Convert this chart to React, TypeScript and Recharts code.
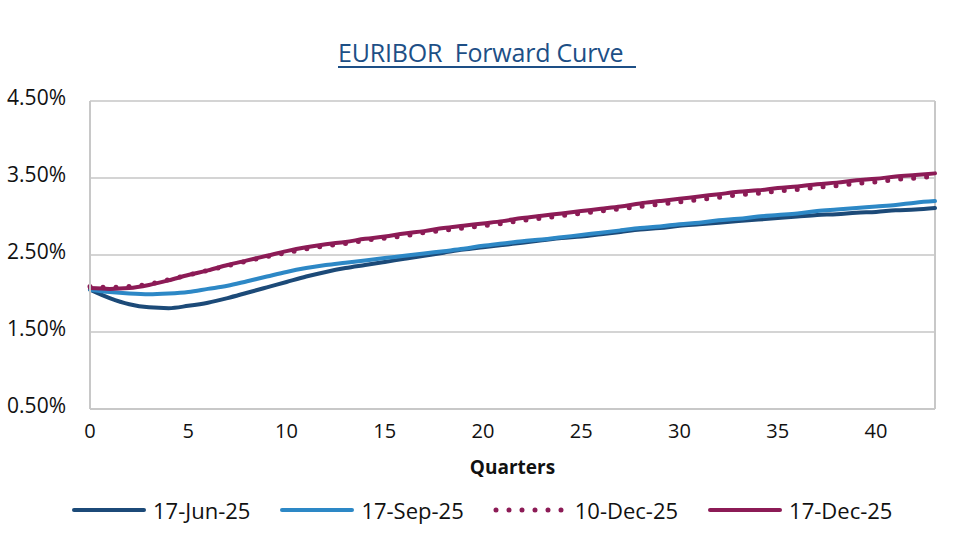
import { LineChart, Line, XAxis, YAxis, CartesianGrid, ReferenceLine, Label } from "recharts";

const quarters = [
  0, 1, 2, 3, 4, 5, 6, 7, 8, 9, 10, 11, 12, 13, 14, 15, 16, 17, 18, 19, 20, 21,
  22, 23, 24, 25, 26, 27, 28, 29, 30, 31, 32, 33, 34, 35, 36, 37, 38, 39, 40, 41, 42, 43,
];

const jun25 = [
  2.05, 1.94, 1.86, 1.82, 1.81, 1.84, 1.88, 1.94, 2.01, 2.08, 2.15, 2.22, 2.28, 2.33, 2.37,
  2.41, 2.45, 2.49, 2.53, 2.57, 2.6, 2.63, 2.66, 2.69, 2.72, 2.74, 2.77, 2.8, 2.83, 2.85,
  2.88, 2.9, 2.92, 2.94, 2.96, 2.98, 3.0, 3.02, 3.03, 3.05, 3.06, 3.08, 3.09, 3.11,
];

const sep25 = [
  2.05, 2.02, 2.0, 1.99, 2.0, 2.02, 2.06, 2.1, 2.16, 2.22, 2.28, 2.33, 2.37, 2.4, 2.43,
  2.46, 2.49, 2.52, 2.55, 2.58, 2.62, 2.65, 2.68, 2.7, 2.73, 2.76, 2.79, 2.82, 2.85, 2.87,
  2.9, 2.92, 2.95, 2.97, 3.0, 3.02, 3.04, 3.07, 3.09, 3.11, 3.13, 3.15, 3.18, 3.2,
];

const dec10 = [
  2.09, 2.08, 2.09, 2.12, 2.18, 2.24, 2.3, 2.36, 2.42, 2.48, 2.53, 2.58, 2.62, 2.65, 2.69,
  2.72, 2.75, 2.79, 2.82, 2.85, 2.88, 2.91, 2.95, 2.98, 3.01, 3.04, 3.07, 3.1, 3.13, 3.16,
  3.19, 3.22, 3.25, 3.28, 3.3, 3.33, 3.35, 3.38, 3.4, 3.43, 3.45, 3.48, 3.5, 3.52,
];

const dec17 = [
  2.07, 2.06, 2.07, 2.11, 2.17, 2.24, 2.3, 2.37, 2.43, 2.49, 2.55, 2.6, 2.64, 2.67, 2.71,
  2.74, 2.78, 2.81, 2.85, 2.88, 2.91, 2.94, 2.98, 3.01, 3.04, 3.07, 3.1, 3.13, 3.17, 3.2,
  3.23, 3.26, 3.29, 3.32, 3.34, 3.37, 3.39, 3.42, 3.44, 3.47, 3.49, 3.52, 3.54, 3.56,
];

const yTicks = [0.5, 1.5, 2.5, 3.5, 4.5];
const xTicks = [0, 5, 10, 15, 20, 25, 30, 35, 40];

const series = [
  { key: "jun25", name: "17-Jun-25", color: "#1c4a78", dotted: false },
  { key: "sep25", name: "17-Sep-25", color: "#2d88c6", dotted: false },
  { key: "dec17", name: "17-Dec-25", color: "#8c1b56", dotted: false },
  { key: "dec10", name: "10-Dec-25", color: "#8c1b56", dotted: true },
];
const legendOrder = ["jun25", "sep25", "dec10", "dec17"];

const data = quarters.map((q, i) => ({
  q,
  jun25: jun25[i],
  sep25: sep25[i],
  dec10: dec10[i],
  dec17: dec17[i],
}));

const font = "'Open Sans', sans-serif";

function Legend() {
  return (
    <div
      style={{
        position: "absolute",
        left: 71,
        top: 495,
        display: "flex",
        alignItems: "center",
        fontFamily: font,
        fontSize: 22,
        color: "#111",
      }}
    >
      {legendOrder.map((k) => {
        const s = series.find((x) => x.key === k)!;
        return (
          <div key={k} style={{ display: "flex", alignItems: "center", marginRight: 29 }}>
            <svg width={76} height={12} style={{ marginRight: 6 }}>
              <line
                x1={3}
                y1={6}
                x2={73}
                y2={6}
                stroke={s.color}
                strokeWidth={s.dotted ? 5 : 4}
                strokeLinecap="round"
                strokeDasharray={s.dotted ? "0 13" : undefined}
              />
            </svg>
            <span>{s.name}</span>
          </div>
        );
      })}
    </div>
  );
}

export default function App() {
  return (
    <div style={{ position: "relative", width: 960, height: 539, background: "#fff" }}>
      <style>{"body{margin:0}"}</style>
      <div
        style={{
          position: "absolute",
          top: 35,
          left: 0,
          width: 974,
          textAlign: "center",
          fontFamily: font,
          fontSize: 25,
          color: "#1d4f86",
          whiteSpace: "pre",
          letterSpacing: -0.2,
        }}
      >
        <span style={{ textDecoration: "underline", textDecorationThickness: 1.5, textUnderlineOffset: 4 }}>
          {"EURIBOR  Forward Curve  "}
        </span>
      </div>
      <LineChart width={960} height={539} data={data} margin={{ top: 101, right: 25, bottom: 100, left: 0 }}>
        <CartesianGrid vertical={false} stroke="#d4d4d4" strokeWidth={2} />
        <XAxis
          dataKey="q"
          type="number"
          domain={[0, 43]}
          ticks={xTicks}
          height={30}
          tickLine={false}
          tickSize={0}
          tickMargin={15}
          axisLine={{ stroke: "#c8c8c8", strokeWidth: 2 }}
          tick={{ fontFamily: font, fontSize: 20, fill: "#111" }}
        >
          <Label
            value="Quarters"
            position="bottom"
            offset={22}
            style={{ fontFamily: font, fontSize: 19, fontWeight: 700, fill: "#111" }}
          />
        </XAxis>
        <YAxis
          domain={[0.5, 4.5]}
          ticks={yTicks}
          width={90}
          tickLine={false}
          tickSize={0}
          tickMargin={24}
          axisLine={{ stroke: "#c8c8c8", strokeWidth: 2 }}
          tickFormatter={(v: number) => v.toFixed(2) + "%"}
          tick={{ fontFamily: font, fontSize: 21, fill: "#111", dy: -3 }}
        />
        <ReferenceLine x={43} stroke="#c8c8c8" strokeWidth={2} />
        {series.map((s) => (
          <Line
            key={s.key}
            dataKey={s.key}
            name={s.name}
            type="monotone"
            stroke={s.color}
            strokeWidth={s.dotted ? 5 : 4}
            strokeLinecap="round"
            strokeDasharray={s.dotted ? "0 13" : undefined}
            dot={false}
            activeDot={false}
            isAnimationActive={false}
          />
        ))}
      </LineChart>
      <Legend />
    </div>
  );
}
